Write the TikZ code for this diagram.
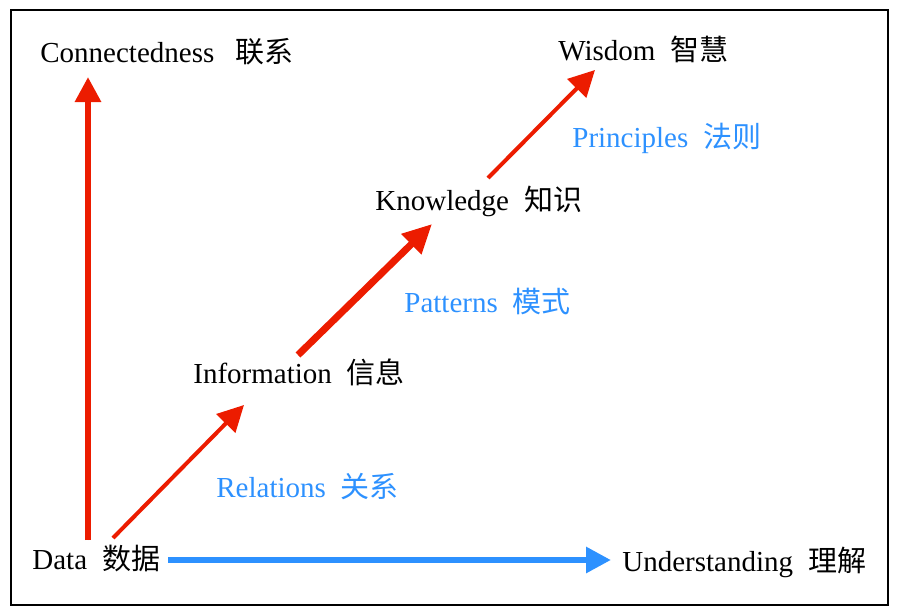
\documentclass[tikz,border=0pt]{standalone}
\usepackage{fontspec}
\setmainfont{Liberation Serif}
\newfontfamily\cjk{Noto Sans CJK SC}
\usetikzlibrary{arrows.meta}
\definecolor{dikwred}{RGB}{236,28,0}
\definecolor{dikwblue}{RGB}{45,145,255}
\tikzset{
  term/.style={inner sep=0pt,anchor=base west,font=\fontsize{14.5}{17}\selectfont},
  relterm/.style={term,text=dikwblue},
  uparrow/.style={draw=dikwred,line width=3pt,-{Triangle[length=12.5pt,width=12.5pt]},fill=dikwred},
  thinarrow/.style={draw=dikwred,line width=2pt,-{Triangle[length=13pt,width=13pt]},fill=dikwred},
  thickarrow/.style={draw=dikwred,line width=3.5pt,-{Triangle[length=14.5pt,width=13.5pt]},fill=dikwred},
  sidearrow/.style={draw=dikwblue,line width=3pt,-{Triangle[length=12.5pt,width=12.5pt]},fill=dikwblue}
}
\begin{document}
\begin{tikzpicture}[x=0.5pt,y=-0.5pt]
  \useasboundingbox (0,0) rectangle (900,616);
  \draw [line width=1pt] (11,10) rectangle (888,605);
  % terms
  \node [term] (conn) at (40,62) {Connectedness\hspace{10.5pt}{\cjk 联系}};
  \node [term] (wisdom) at (558,60) {Wisdom\hspace{7.5pt}{\cjk 智慧}};
  \node [relterm] (princ) at (572,147) {Principles\hspace{7.5pt}{\cjk 法则}};
  \node [term] (know) at (375,210) {Knowledge\hspace{7.5pt}{\cjk 知识}};
  \node [relterm] (patt) at (404,312) {Patterns\hspace{7.5pt}{\cjk 模式}};
  \node [term] (info) at (193,383) {Information\hspace{7.5pt}{\cjk 信息}};
  \node [relterm] (rel) at (216,497) {Relations\hspace{7.5pt}{\cjk 关系}};
  \node [term] (data) at (32,569) {Data\hspace{7.5pt}{\cjk 数据}};
  \node [term] (under) at (622,571) {Understanding\hspace{7.5pt}{\cjk 理解}};
  % arrow ends
  \coordinate (dataUp) at (88,540);   \coordinate (connLow) at (88,77);
  \coordinate (dataDiag) at (113,538); \coordinate (infoLow) at (244,405);
  \coordinate (infoUp) at (298,355);  \coordinate (knowLow) at (432,224);
  \coordinate (knowUp) at (488,178);  \coordinate (wisLow) at (595,70);
  \coordinate (dataRight) at (168,560); \coordinate (underLeft) at (611,560);
  \draw [uparrow] (dataUp) -- (connLow);
  \draw [thinarrow] (dataDiag) -- (infoLow);
  \draw [thickarrow] (infoUp) -- (knowLow);
  \draw [thinarrow] (knowUp) -- (wisLow);
  \draw [sidearrow] (dataRight) -- (underLeft);
\end{tikzpicture}
\end{document}
